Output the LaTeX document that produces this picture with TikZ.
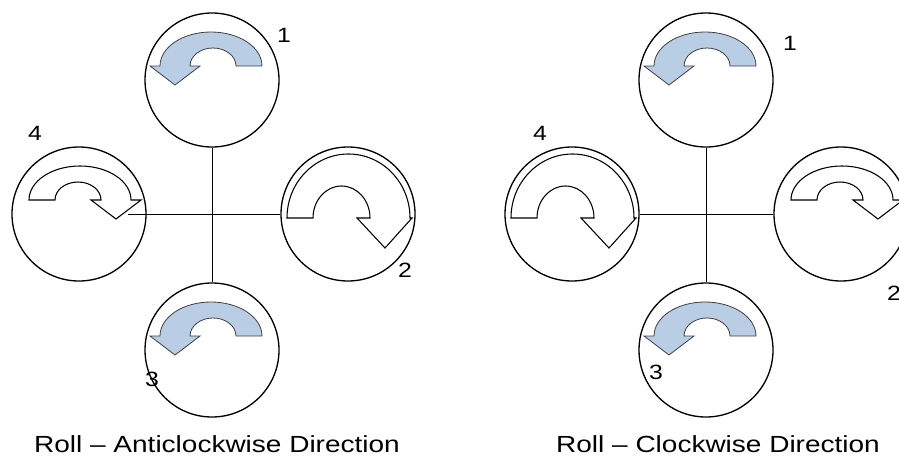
\documentclass[tikz,border=0pt]{standalone}
\usepackage{fontspec}
\setmainfont{Liberation Sans}[FakeStretch=1.2]
\definecolor{rollblue}{RGB}{185,205,229}
\tikzset{every picture/.style={line width=0.75pt}}
% curved block arrows drawn inside a motor circle (origin = circle centre)
\tikzset{
	smallroll/.pic={
		\path[pic actions,yscale=-1] (50,-14) arc[start angle=0,end angle=-180,x radius=51,y radius=34] -- (-62,-14) -- (-37,5) -- (-12,-14) -- (-22,-14) arc[start angle=180,end angle=360,x radius=23,y radius=18] -- cycle ;
	},
	bigroll/.pic={
		\path[pic actions,yscale=-1] (-61,4) arc[start angle=180,end angle=360,x radius=61.5,y radius=64] -- (64,4) -- (37,34) -- (9,4) -- (22,4) arc[start angle=0,end angle=-180,x radius=28.5,y radius=32] -- cycle ;
	}
}

\begin{document}
\begin{tikzpicture}[x=0.75pt,y=0.75pt,yscale=-1,xscale=1,
	motor/.style={draw,circle,minimum size=100.5pt,inner sep=0pt,line width=1pt},
	ccw/.style={draw=black!75,fill=rollblue,line width=0.6pt},
	cw/.style={draw,fill=white,line width=0.8pt},
	num/.style={font=\fontsize{15.5}{18}\selectfont,inner sep=0pt},
	caption/.style={font=\fontsize{17.5}{21}\selectfont,inner sep=0pt,anchor=base}]
	\useasboundingbox (0,0) rectangle (899,457);
	
	%Roll - anticlockwise
	\node[motor] (a1) at (212,80) {};
	\node[motor] (a2) at (348,214) {};
	\node[motor] (a3) at (212,350) {};
	\node[motor] (a4) at (79,214) {};
	\draw (a1) -- (a3) ;
	\draw ([xshift=-14pt]a4.east) -- (a2) ;
	\pic[ccw] at (a1) {smallroll};
	\pic[ccw] at (a3) {smallroll};
	\pic[cw,xscale=-1] at (a4) {smallroll};
	\pic[cw] at (a2) {bigroll};
	
	\node[num] (na1) at (284,35) {1};
	\node[num] (na2) at (405,270) {2};
	\node[num] (na3) at (152,379) {3};
	\node[num] (na4) at (35,133) {4};
	\node[caption] (capa) at (217,452) {Roll -- Anticlockwise Direction};
	
	%Roll - clockwise
	\node[motor] (c1) at (706,80) {};
	\node[motor] (c2) at (841,214) {};
	\node[motor] (c3) at (706,350) {};
	\node[motor] (c4) at (572,214) {};
	\draw (c1) -- (c3) ;
	\draw (c4) -- (c2) ;
	\pic[ccw] at (c1) {smallroll};
	\pic[ccw] at (c3) {smallroll};
	\pic[cw] at (c4) {bigroll};
	\pic[cw,xscale=-1] at (c2) {smallroll};
	
	\node[num] (nc1) at (790,43) {1};
	\node[num] (nc2) at (894,293) {2};
	\node[num] (nc3) at (656,372) {3};
	\node[num] (nc4) at (540,133) {4};
	\node[caption] (capc) at (718,452) {Roll -- Clockwise Direction};
	
\end{tikzpicture}
\end{document}
